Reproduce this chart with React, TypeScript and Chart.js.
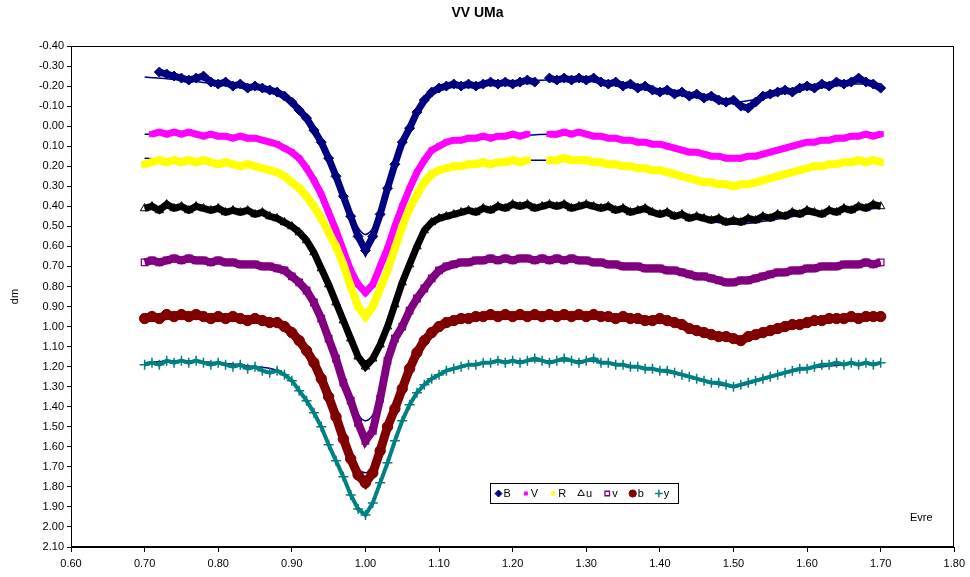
import React, { useEffect, useRef } from 'react';
import { Chart, registerables } from 'chart.js';
import { drawPoint } from 'chart.js/helpers';

Chart.register(...registerables);

const TITLE = 'VV UMa';
const Y_TITLE = 'dm';
const X_TITLE = 'Evre';
const FONT = '"Liberation Sans", Arial, sans-serif';

const PHASE = [
  0.70, 0.71, 0.72, 0.73, 0.74, 0.75, 0.76, 0.77, 0.78, 0.79,
  0.80, 0.81, 0.82, 0.83, 0.84, 0.85, 0.86, 0.87, 0.88, 0.89,
  0.90, 0.91, 0.92, 0.93, 0.94, 0.95, 0.96, 0.97, 0.98, 0.99,
  1.00, 1.01, 1.02, 1.03, 1.04, 1.05, 1.06, 1.07, 1.08, 1.09,
  1.10, 1.11, 1.12, 1.13, 1.14, 1.15, 1.16, 1.17, 1.18, 1.19,
  1.20, 1.21, 1.22, 1.23, 1.24, 1.25, 1.26, 1.27, 1.28, 1.29,
  1.30, 1.31, 1.32, 1.33, 1.34, 1.35, 1.36, 1.37, 1.38, 1.39,
  1.40, 1.41, 1.42, 1.43, 1.44, 1.45, 1.46, 1.47, 1.48, 1.49,
  1.50, 1.51, 1.52, 1.53, 1.54, 1.55, 1.56, 1.57, 1.58, 1.59,
  1.60, 1.61, 1.62, 1.63, 1.64, 1.65, 1.66, 1.67, 1.68, 1.69,
  1.70,
];

const B_MAG = [
  null, null, -0.27, -0.26, -0.25, -0.24, -0.23, -0.24, -0.25, -0.22,
  -0.21, -0.22, -0.20, -0.21, -0.19, -0.20, -0.19, -0.18, -0.17, -0.15,
  -0.12, -0.08, -0.04, 0.02, 0.08, 0.16, 0.25, 0.35, 0.45, 0.55,
  0.62, 0.55, 0.44, 0.31, 0.19, 0.08, 0.01, -0.07, -0.13, -0.17,
  -0.19, -0.20, -0.21, -0.20, -0.21, -0.20, -0.21, -0.22, -0.21, -0.22,
  -0.21, -0.22, -0.23, -0.22, null, -0.24, -0.23, -0.24, -0.23, -0.24,
  -0.23, -0.24, -0.22, -0.21, -0.22, -0.20, -0.21, -0.19, -0.20, -0.18,
  -0.17, -0.18, -0.16, -0.17, -0.15, -0.16, -0.14, -0.15, -0.13, -0.12,
  -0.13, -0.10, -0.09, -0.12, -0.15, -0.16, -0.17, -0.18, -0.17, -0.19,
  -0.20, -0.19, -0.21, -0.20, -0.22, -0.21, -0.22, -0.24, -0.22, -0.21,
  -0.19,
];

const V_MAG = [
  null, 0.04, 0.03, 0.04, 0.03, 0.04, 0.03, 0.04, 0.05, 0.04,
  0.05, 0.05, 0.06, 0.05, 0.06, 0.06, 0.07, 0.08, 0.09, 0.11,
  0.13, 0.16, 0.21, 0.27, 0.34, 0.43, 0.52, 0.62, 0.72, 0.79,
  0.83, 0.79, 0.70, 0.61, 0.50, 0.40, 0.31, 0.23, 0.17, 0.12,
  0.10, 0.08, 0.07, 0.07, 0.06, 0.06, 0.05, 0.06, 0.05, 0.05,
  0.04, 0.05, 0.04, null, null, 0.04, 0.04, 0.03, 0.04, 0.03,
  0.04, 0.05, 0.05, 0.06, 0.06, 0.07, 0.07, 0.08, 0.08, 0.09,
  0.09, 0.10, 0.11, 0.12, 0.13, 0.13, 0.14, 0.15, 0.15, 0.16,
  0.16, 0.16, 0.15, 0.15, 0.14, 0.13, 0.12, 0.11, 0.10, 0.09,
  0.08, 0.08, 0.07, 0.07, 0.06, 0.06, 0.05, 0.05, 0.04, 0.05,
  0.04,
];

const R_MAG = [
  0.19, 0.18, 0.17, 0.18, 0.17, 0.18, 0.17, 0.18, 0.17, 0.18,
  0.19, 0.18, 0.19, 0.20, 0.19, 0.20, 0.21, 0.22, 0.23, 0.25,
  0.28, 0.31, 0.35, 0.40, 0.46, 0.53, 0.60, 0.69, 0.80, 0.90,
  0.95, 0.90, 0.81, 0.72, 0.61, 0.50, 0.41, 0.34, 0.28, 0.24,
  0.22, 0.21, 0.20, 0.20, 0.19, 0.19, 0.18, 0.19, 0.18, 0.18,
  0.17, 0.18, 0.17, null, null, 0.17, 0.17, 0.16, 0.17, 0.17,
  0.17, 0.18, 0.18, 0.19, 0.19, 0.20, 0.20, 0.21, 0.21, 0.22,
  0.22, 0.23, 0.24, 0.25, 0.26, 0.27, 0.28, 0.28, 0.29, 0.29,
  0.30, 0.29, 0.29, 0.28, 0.27, 0.26, 0.25, 0.24, 0.23, 0.22,
  0.21, 0.20, 0.20, 0.19, 0.19, 0.18, 0.18, 0.17, 0.18, 0.17,
  0.18,
];

const U_MAG = [
  0.41, 0.40, 0.42, 0.39, 0.41, 0.40, 0.42, 0.40, 0.41, 0.42,
  0.41, 0.43, 0.42, 0.43, 0.42, 0.44, 0.43, 0.45, 0.46, 0.48,
  0.50, 0.53, 0.57, 0.63, 0.71, 0.79, 0.88, 0.97, 1.06, 1.15,
  1.20, 1.16, 1.09, 1.00, 0.89, 0.78, 0.69, 0.60, 0.52, 0.48,
  0.46, 0.45, 0.44, 0.43, 0.42, 0.43, 0.41, 0.42, 0.40, 0.41,
  0.39, 0.40, 0.39, 0.41, 0.40, 0.39, 0.40, 0.39, 0.41, 0.40,
  0.39, 0.40, 0.41, 0.40, 0.42, 0.41, 0.43, 0.42, 0.41, 0.43,
  0.44, 0.43, 0.45, 0.44, 0.46, 0.45, 0.46, 0.47, 0.46, 0.48,
  0.47, 0.48, 0.46, 0.47, 0.45, 0.46, 0.44, 0.45, 0.43, 0.44,
  0.42, 0.43, 0.44, 0.42, 0.43, 0.41, 0.42, 0.40, 0.41, 0.39,
  0.40,
];

const VS_MAG = [
  0.68, 0.67, 0.68, 0.67, 0.66, 0.67, 0.66, 0.67, 0.67, 0.68,
  0.67, 0.68, 0.68, 0.69, 0.69, 0.69, 0.70, 0.70, 0.71, 0.72,
  0.75, 0.78, 0.82, 0.88, 0.96, 1.06, 1.16, 1.28, 1.37, 1.48,
  1.57, 1.52, 1.36, 1.17, 1.06, 1.00, 0.92, 0.86, 0.81, 0.76,
  0.72, 0.70, 0.69, 0.68, 0.68, 0.67, 0.67, 0.66, 0.67, 0.66,
  0.67, 0.66, 0.66, 0.67, 0.66, 0.67, 0.66, 0.67, 0.66, 0.67,
  0.67, 0.68, 0.68, 0.69, 0.69, 0.70, 0.70, 0.70, 0.71, 0.71,
  0.71, 0.72, 0.72, 0.73, 0.74, 0.75, 0.75, 0.76, 0.77, 0.78,
  0.78, 0.77, 0.77, 0.76, 0.75, 0.74, 0.73, 0.73, 0.72, 0.72,
  0.71, 0.71, 0.70, 0.70, 0.70, 0.69, 0.69, 0.69, 0.68, 0.69,
  0.68,
];

const BS_MAG = [
  0.96, 0.95, 0.96, 0.94, 0.95, 0.94, 0.95, 0.94, 0.95, 0.96,
  0.95, 0.96, 0.95, 0.96, 0.97, 0.96, 0.97, 0.98, 0.98, 1.00,
  1.03, 1.07, 1.12, 1.18, 1.26, 1.35, 1.45, 1.56, 1.66, 1.74,
  1.78, 1.73, 1.62, 1.50, 1.41, 1.31, 1.21, 1.13, 1.07, 1.03,
  1.00, 0.98, 0.97, 0.96, 0.96, 0.95, 0.95, 0.94, 0.95, 0.94,
  0.95, 0.94, 0.95, 0.94, 0.95, 0.94, 0.95, 0.94, 0.95, 0.94,
  0.95, 0.94, 0.95, 0.95, 0.96, 0.95, 0.96, 0.96, 0.97, 0.97,
  0.96, 0.97, 0.98, 0.99, 1.01, 1.02, 1.03, 1.04, 1.05, 1.05,
  1.06, 1.07, 1.05, 1.04, 1.03, 1.02, 1.01, 1.00, 0.99, 0.99,
  0.98, 0.97, 0.97, 0.96, 0.96, 0.96, 0.95, 0.96, 0.95, 0.95,
  0.95,
];

const YS_MAG = [
  1.19, 1.18, 1.19, 1.17, 1.18, 1.17, 1.18, 1.17, 1.18, 1.19,
  1.18, 1.19, 1.20, 1.19, 1.21, 1.20, 1.22, 1.23, 1.22, 1.24,
  1.27, 1.32, 1.37, 1.43, 1.50, 1.59, 1.67, 1.75, 1.84, 1.91,
  1.94, 1.88, 1.78, 1.68, 1.57, 1.47, 1.39, 1.33, 1.29, 1.26,
  1.24, 1.22, 1.21, 1.20, 1.19, 1.19, 1.18, 1.18, 1.17, 1.18,
  1.17, 1.18, 1.17, 1.16, 1.17, 1.18, 1.17, 1.16, 1.17, 1.18,
  1.17, 1.16, 1.18, 1.18, 1.19, 1.19, 1.20, 1.20, 1.21, 1.21,
  1.22, 1.22, 1.23, 1.24, 1.25, 1.26, 1.27, 1.28, 1.28, 1.29,
  1.30, 1.29, 1.28, 1.27, 1.26, 1.25, 1.24, 1.23, 1.22, 1.21,
  1.21, 1.20, 1.19, 1.19, 1.18, 1.19, 1.18, 1.19, 1.18, 1.19,
  1.18,
];

// fitted model curves
const FIT_PHASE = [
  0.70, 0.75, 0.80, 0.85, 0.88, 0.90, 0.92, 0.94, 0.96, 0.98,
  1.00, 1.02, 1.04, 1.06, 1.08, 1.10, 1.12, 1.15, 1.20, 1.25,
  1.30, 1.35, 1.40, 1.45, 1.50, 1.55, 1.60, 1.65, 1.70,
];
const B_FIT = [-0.245, -0.23, -0.21, -0.195, -0.17, -0.13, -0.05, 0.08, 0.26, 0.44, 0.54, 0.44, 0.20, 0.00, -0.13, -0.19, -0.205, -0.21, -0.22, -0.23, -0.23, -0.21, -0.18, -0.155, -0.12, -0.15, -0.19, -0.21, -0.21];
const V_FIT = [0.04, 0.04, 0.05, 0.06, 0.08, 0.12, 0.20, 0.33, 0.52, 0.72, 0.81, 0.71, 0.50, 0.31, 0.17, 0.10, 0.07, 0.06, 0.05, 0.04, 0.04, 0.07, 0.09, 0.13, 0.16, 0.13, 0.08, 0.06, 0.05];
const R_FIT = [0.16, 0.17, 0.18, 0.20, 0.23, 0.28, 0.35, 0.46, 0.61, 0.80, 0.92, 0.80, 0.61, 0.41, 0.28, 0.22, 0.20, 0.19, 0.17, 0.17, 0.17, 0.20, 0.22, 0.27, 0.29, 0.26, 0.21, 0.18, 0.17];
const U_FIT = [0.41, 0.41, 0.42, 0.43, 0.46, 0.50, 0.57, 0.71, 0.88, 1.06, 1.17, 1.09, 0.89, 0.69, 0.52, 0.46, 0.44, 0.43, 0.40, 0.40, 0.40, 0.41, 0.44, 0.46, 0.49, 0.47, 0.44, 0.42, 0.41];
const VS_FIT = [0.67, 0.67, 0.67, 0.69, 0.71, 0.75, 0.82, 0.96, 1.16, 1.37, 1.47, 1.36, 1.06, 0.92, 0.81, 0.72, 0.69, 0.67, 0.67, 0.67, 0.67, 0.70, 0.71, 0.75, 0.78, 0.74, 0.71, 0.69, 0.68];
const BS_FIT = [0.95, 0.94, 0.95, 0.96, 0.98, 1.03, 1.12, 1.26, 1.45, 1.66, 1.73, 1.62, 1.41, 1.21, 1.07, 1.00, 0.97, 0.95, 0.95, 0.94, 0.95, 0.95, 0.96, 1.02, 1.06, 1.02, 0.98, 0.96, 0.95];
const YS_FIT = [1.18, 1.17, 1.18, 1.20, 1.22, 1.27, 1.37, 1.50, 1.67, 1.84, 1.93, 1.78, 1.57, 1.39, 1.29, 1.24, 1.21, 1.19, 1.17, 1.17, 1.17, 1.19, 1.22, 1.26, 1.30, 1.25, 1.21, 1.19, 1.18];

const SERIES = [
  { label: 'B', values: B_MAG, fit: B_FIT, color: '#000080', style: 'rectRot', radius: 5, fill: '#000080', pw: 1, lw: 7, lr: 3.5 },
  { label: 'V', values: V_MAG, fit: V_FIT, color: '#ff00ff', style: 'rect', radius: 3.6, fill: '#ff00ff', pw: 1, lw: 7, lr: 2.2 },
  { label: 'R', values: R_MAG, fit: R_FIT, color: '#ffff00', style: 'rect', radius: 4.2, fill: '#ffff00', pw: 1, lw: 8, lr: 2.2 },
  { label: 'u', values: U_MAG, fit: U_FIT, color: '#000000', style: 'triangle', radius: 4.8, fill: 'rgba(255,255,255,0)', pw: 1, lw: 7, lr: 3.8 },
  { label: 'v', values: VS_MAG, fit: VS_FIT, color: '#800080', style: 'rect', radius: 4.6, fill: 'rgba(255,255,255,0)', pw: 1.3, lw: 8, lr: 3.2 },
  { label: 'b', values: BS_MAG, fit: BS_FIT, color: '#800000', style: 'circle', radius: 5.2, fill: '#800000', pw: 1, lw: 9, lr: 3.6 },
  { label: 'y', values: YS_MAG, fit: YS_FIT, color: '#008080', style: 'cross', radius: 5, fill: '#008080', pw: 1.5, lw: 4, lr: 3.8 },
];

const FIT_COLOR = '#000080';

const decorPlugin = {
  id: 'decor',
  afterDraw(chart: any) {
    const { ctx, chartArea: a } = chart;
    ctx.save();
    ctx.strokeStyle = '#000';
    ctx.lineWidth = 1;
    ctx.strokeRect(Math.round(a.left) + 0.5, Math.round(a.top) + 0.5, Math.round(a.right - a.left) - 1, Math.round(a.bottom - a.top) - 1);
    ctx.font = `11px ${FONT}`;
    ctx.fillStyle = '#000';
    ctx.textAlign = 'center';
    ctx.textBaseline = 'middle';
    ctx.fillText(X_TITLE, a.right - 33, a.bottom - 29);
    const w = a.right - a.left;
    const boxL = Math.round(a.left + w * 0.474) + 0.5;
    const boxT = Math.round(a.bottom - 64) + 0.5;
    const boxW = 188;
    const boxH = 20;
    ctx.fillStyle = '#fff';
    ctx.fillRect(boxL, boxT, boxW, boxH);
    ctx.strokeStyle = '#000';
    ctx.strokeRect(boxL, boxT, boxW, boxH);
    const cy = boxT + boxH / 2;
    let x = boxL + 8;
    ctx.textAlign = 'left';
    ctx.font = `11px ${FONT}`;
    SERIES.forEach((s) => {
      ctx.fillStyle = s.fill;
      ctx.strokeStyle = s.color;
      ctx.lineWidth = s.pw;
      drawPoint(ctx, { pointStyle: s.style, radius: s.lr, rotation: 0, borderWidth: s.pw }, x, cy);
      ctx.fillStyle = '#000';
      ctx.fillText(s.label, x + 5, cy + 0.5);
      const tw = ctx.measureText(s.label).width;
      x = x + 5 + tw + 15;
    });
    ctx.restore();
  },
};

export default function App() {
  const ref = useRef<HTMLCanvasElement | null>(null);

  useEffect(() => {
    document.body.style.margin = '0';
    const canvas = ref.current;
    if (!canvas) return;

    const pointSets = SERIES.map((s, i) => ({
      type: 'scatter',
      label: s.label,
      data: PHASE.map((p, j) => ({ x: p, y: s.values[j] })),
      showLine: true,
      spanGaps: false,
      borderColor: s.color,
      borderWidth: s.lw,
      backgroundColor: s.fill,
      pointStyle: s.style,
      pointRadius: s.radius,
      pointBackgroundColor: s.fill,
      pointBorderColor: s.color,
      pointBorderWidth: s.pw,
      tension: 0,
      order: 20 - i,
    }));

    const fitSets = SERIES.map((s) => ({
      type: 'scatter',
      label: s.label + ' fit',
      data: FIT_PHASE.map((p, j) => ({ x: p, y: s.fit[j] })),
      showLine: true,
      borderColor: FIT_COLOR,
      borderWidth: 1.5,
      pointRadius: 0,
      cubicInterpolationMode: 'monotone',
      order: 40,
    }));

    const tickFont = { family: FONT, size: 11 };

    const chart = new Chart(canvas, {
      type: 'scatter',
      data: { datasets: [...pointSets, ...fitSets] as any },
      options: {
        responsive: false,
        animation: false,
        layout: { padding: { left: 0, right: 15, top: 0, bottom: 0 } },
        plugins: {
          legend: { display: false },
          tooltip: { enabled: false },
          title: {
            display: true,
            text: TITLE,
            color: '#000',
            font: { family: FONT, size: 14, weight: 'bold' },
            padding: { top: 5, bottom: 24.2 },
          },
        },
        scales: {
          x: {
            type: 'linear',
            position: 'bottom',
            min: 0.6,
            max: 1.8,
            ticks: {
              stepSize: 0.1,
              autoSkip: false,
              maxRotation: 0,
              color: '#000',
              font: tickFont,
              padding: 5,
              callback: (v: any) => Number(v).toFixed(2),
            },
            grid: { display: true, drawOnChartArea: false, drawTicks: true, tickLength: 5, color: '#000' },
            border: { display: true, color: '#000', width: 1 },
            afterFit: (scale: any) => {
              scale.height = 30;
            },
          },
          y: {
            type: 'linear',
            min: -0.4,
            max: 2.1,
            reverse: true,
            ticks: {
              stepSize: 0.1,
              autoSkip: false,
              color: '#000',
              font: tickFont,
              padding: 3,
              callback: (v: any) => Number(v).toFixed(2),
            },
            grid: { display: true, drawOnChartArea: false, drawTicks: true, tickLength: 4, color: '#000' },
            border: { display: true, color: '#000', width: 1 },
            title: {
              display: true,
              text: Y_TITLE,
              color: '#000',
              font: { family: FONT, size: 11 },
              padding: { top: 8, bottom: 0 },
            },
            afterFit: (scale: any) => {
              scale.width = 71;
            },
          },
        },
      },
      plugins: [decorPlugin],
    } as any);

    return () => chart.destroy();
  }, []);

  return (
    <div style={{ position: 'absolute', left: 0, top: 0, width: 970, height: 577, background: '#fff' }}>
      <canvas ref={ref} width={970} height={577} style={{ display: 'block' }} />
    </div>
  );
}
